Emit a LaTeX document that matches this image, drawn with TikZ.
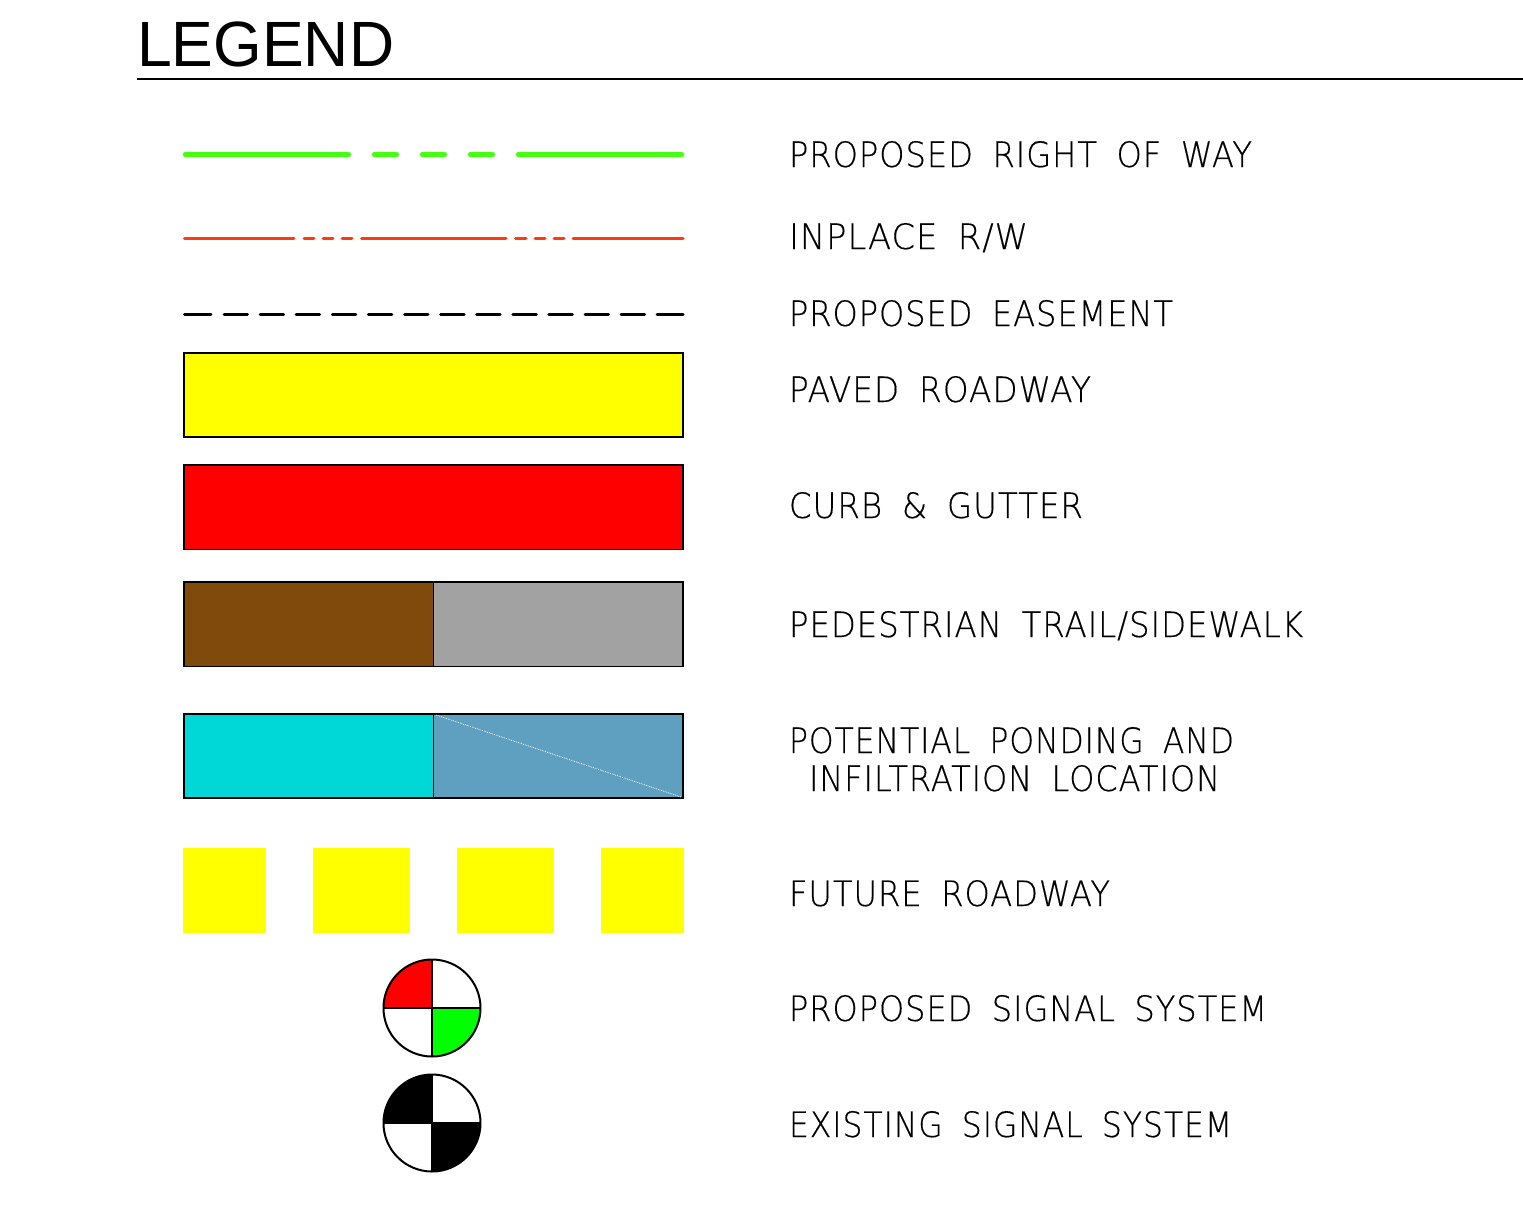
\documentclass[tikz,border=0pt]{standalone}
\usepackage{fontspec}
\usepackage{graphicx}
\setmainfont{Liberation Sans}
\newfontfamily\cadfont[WordSpace=1.75,LetterSpace=3,FakeBold=0.35]{DejaVu Sans ExtraLight}
\definecolor{rowgreen}{HTML}{44FF11}
\definecolor{rwred}{HTML}{FF3A10}
\definecolor{trailbrown}{HTML}{7F4A0B}
\definecolor{trailgray}{HTML}{A2A2A2}
\definecolor{pondcyan}{HTML}{00D8D8}
\definecolor{pondblue}{HTML}{5F9FC0}
\definecolor{padyellow}{HTML}{FFFF00}
\definecolor{sigred}{HTML}{FF0000}
\definecolor{siggreen}{HTML}{00FF00}
\newcommand{\cadtext}[2]{\resizebox{#1pt}{\height}{\cadfont\fontsize{35}{35}\selectfont #2}}
\tikzset{
  cadlabel/.style={anchor=base west,inner sep=0pt,outer sep=0pt,text=black},
  swatch/.style={draw=black,line width=1.5pt},
  signal/.style={draw=black,line width=2pt},
  rowline/.style={draw=rowgreen,line width=4.2pt,line cap=round},
  rwline/.style={draw=rwred,line width=3pt,line cap=round},
  easeline/.style={draw=black,line width=3pt,line cap=round},
}
\begin{document}
\begin{tikzpicture}[x=1pt,y=-1pt]
\useasboundingbox (0,0) rectangle (1523,1219);
% title
\node[anchor=base west,inner sep=0pt] (title) at (137,66) {\resizebox{257pt}{\height}{\fontsize{64}{64}\selectfont LEGEND}};
\coordinate (ruleL) at (137,79);
\coordinate (ruleR) at (1523,79);
\draw[line width=2pt] (ruleL) -- (ruleR);
% proposed right of way
\foreach \a/\b in {185/349,374/397,422/445,470/493,518/682}
  \draw[rowline] (\a,154.5) -- (\b,154.5);
% inplace r/w
\foreach \a/\b in {184.5/294,304/314,323/333,342/352,361.5/506,515.5/526,535/545,554/564,573/683}
  \draw[rwline] (\a,238.5) -- (\b,238.5);
% easement
\draw[easeline] (184.5,314) -- (211,314);
\foreach \k in {0,...,11}
  \draw[easeline] ({224+36.1*\k},314) -- ({247.5+36.1*\k},314);
\draw[easeline] (657,314) -- (683,314);
% swatches
\draw[swatch,fill=padyellow] (184,353) rectangle (683,437);
\draw[swatch,fill=sigred] (184,465) rectangle (683,549.5);
\draw[swatch,fill=trailbrown] (184,582) rectangle (433.5,666.5);
\draw[swatch,fill=trailgray] (433.5,582) rectangle (683,666.5);
\draw[swatch,fill=pondcyan] (184,714) rectangle (433.5,798);
\draw[swatch,fill=pondblue] (433.5,714) rectangle (683,798);
\draw[white,line width=0.8pt,densely dotted] (436,715) -- (681,797);
% future roadway
\foreach \a/\b in {183/266,313/410,457/554,601/684}
  \fill[padyellow] (\a,848) rectangle (\b,933);
% proposed signal (y axis points down, so angles are mirrored)
\begin{scope}[shift={(432,1008)}]
  \fill[sigred] (0,0) -- (-48.5,0) arc[start angle=180,end angle=270,radius=48.5] -- cycle;
  \fill[siggreen] (0,0) -- (48.5,0) arc[start angle=0,end angle=90,radius=48.5] -- cycle;
  \draw[signal] (0,0) circle[radius=48.5];
  \draw[signal] (-48.5,0) -- (48.5,0) (0,-48.5) -- (0,48.5);
\end{scope}
% existing signal
\begin{scope}[shift={(432,1123)}]
  \fill[black] (0,0) -- (-48.5,0) arc[start angle=180,end angle=270,radius=48.5] -- cycle;
  \fill[black] (0,0) -- (48.5,0) arc[start angle=0,end angle=90,radius=48.5] -- cycle;
  \draw[signal] (0,0) circle[radius=48.5];
  \draw[signal] (-48.5,0) -- (48.5,0) (0,-48.5) -- (0,48.5);
\end{scope}
% labels
\node[cadlabel] (l1) at (789,167) {\cadtext{463}{PROPOSED RIGHT OF WAY}};
\node[cadlabel] (l2) at (789,249) {\cadtext{239}{INPLACE R/W}};
\node[cadlabel] (l3) at (789,326) {\cadtext{384}{PROPOSED EASEMENT}};
\node[cadlabel] (l4) at (789,402) {\cadtext{302}{PAVED ROADWAY}};
\node[cadlabel] (l5) at (789,518) {\cadtext{294}{CURB \& GUTTER}};
\node[cadlabel] (l6) at (789,637) {\cadtext{514}{PEDESTRIAN TRAIL/SIDEWALK}};
\node[cadlabel] (l7) at (789,753) {\cadtext{445}{POTENTIAL PONDING AND}};
\node[cadlabel] (l8) at (809,791) {\cadtext{411}{INFILTRATION LOCATION}};
\node[cadlabel] (l9) at (789,906) {\cadtext{321}{FUTURE ROADWAY}};
\node[cadlabel] (l10) at (789,1021) {\cadtext{478}{PROPOSED SIGNAL SYSTEM}};
\node[cadlabel] (l11) at (789,1137) {\cadtext{443}{EXISTING SIGNAL SYSTEM}};
\end{tikzpicture}
\end{document}
